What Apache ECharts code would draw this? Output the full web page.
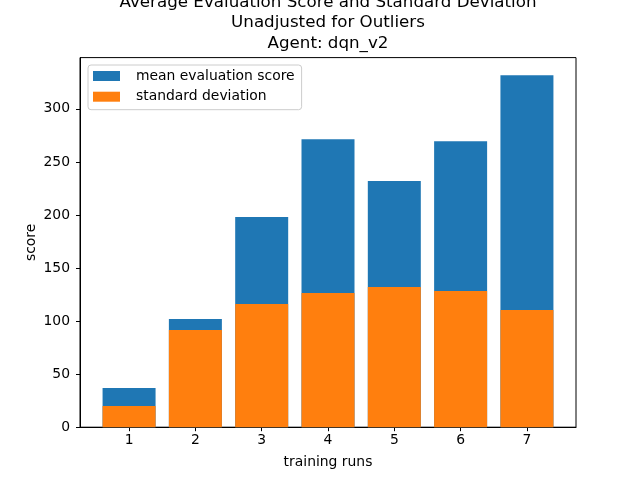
<!DOCTYPE html>
<html>
<head>
<meta charset="utf-8">
<script src="https://cdn.jsdelivr.net/npm/echarts@6/dist/echarts.min.js"></script>
<style>html,body{margin:0;padding:0;background:#fff}#c{width:640px;height:480px}</style>
</head>
<body>
<div id="c"></div>
<script>
const runs = [1, 2, 3, 4, 5, 6, 7];
const meanScore = [37.0, 102.0, 198.0, 271.4, 231.9, 269.5, 331.7];
const stdDev = [20.0, 91.6, 116.1, 126.4, 132.1, 128.3, 110.4];
const yTicks = [0, 50, 100, 150, 200, 250, 300];

const font = 'DejaVu Sans';
const chart = echarts.init(document.getElementById('c'), null, {renderer: 'canvas'});
chart.setOption({
  animation: false,
  backgroundColor: '#fff',
  textStyle: {fontFamily: font},
  title: {
    text: 'Average Evaluation Score and Standard Deviation\nUnadjusted for Outliers\nAgent: dqn_v2',
    left: 328, textAlign: 'center', top: -8, padding: 0,
    textStyle: {fontFamily: font, fontSize: 16.7, fontWeight: 'normal', color: '#000', lineHeight: 20.7}
  },
  legend: {
    orient: 'vertical', left: 88, top: 65,
    padding: [4, 7, 6, 5],
    itemWidth: 27, itemHeight: 10, itemGap: 6.7,
    icon: 'rect',
    borderColor: '#cccccc', borderWidth: 1, borderRadius: 3,
    backgroundColor: 'rgba(255,255,255,0.8)',
    textStyle: {fontFamily: font, fontSize: 13.9, color: '#000', lineHeight: 14, padding: [0, 0, 0, 11]},
    data: ['mean evaluation score', 'standard deviation']
  },
  grid: {left: 80, right: 64, top: 57.6, bottom: 52.8, show: true, borderColor: '#000', borderWidth: 1, containLabel: false},
  xAxis: {
    type: 'value', min: 0.26, max: 7.74,
    name: 'training runs', nameLocation: 'middle', nameGap: 28, nameMoveOverlap: false,
    nameTextStyle: {fontFamily: font, fontSize: 13.9, color: '#000'},
    axisLine: {show: true, onZero: false, lineStyle: {color: '#000', width: 1}},
    axisTick: {show: true, inside: false, length: 4, lineStyle: {color: '#000'}, customValues: runs},
    axisLabel: {fontFamily: font, fontSize: 13.9, color: '#000', margin: 6, customValues: runs},
    splitLine: {show: false}
  },
  yAxis: {
    type: 'value', min: 0, max: 348.3,
    name: 'score', nameLocation: 'middle', nameGap: 42, nameMoveOverlap: false,
    nameTextStyle: {fontFamily: font, fontSize: 13.9, color: '#000'},
    axisLine: {show: true, lineStyle: {color: '#000', width: 1}},
    axisTick: {show: true, inside: false, length: 4, lineStyle: {color: '#000'}, customValues: yTicks},
    axisLabel: {fontFamily: font, fontSize: 13.9, color: '#000', margin: 10, customValues: yTicks},
    splitLine: {show: false}
  },
  series: [
    {
      name: 'mean evaluation score', type: 'bar', barWidth: 53, barGap: '-100%',
      itemStyle: {color: '#1f77b4'},
      data: runs.map((r, i) => [r, meanScore[i]])
    },
    {
      name: 'standard deviation', type: 'bar', barWidth: 53, barGap: '-100%',
      itemStyle: {color: '#ff7f0e'},
      data: runs.map((r, i) => [r, stdDev[i]])
    }
  ]
});
</script>
</body>
</html>
